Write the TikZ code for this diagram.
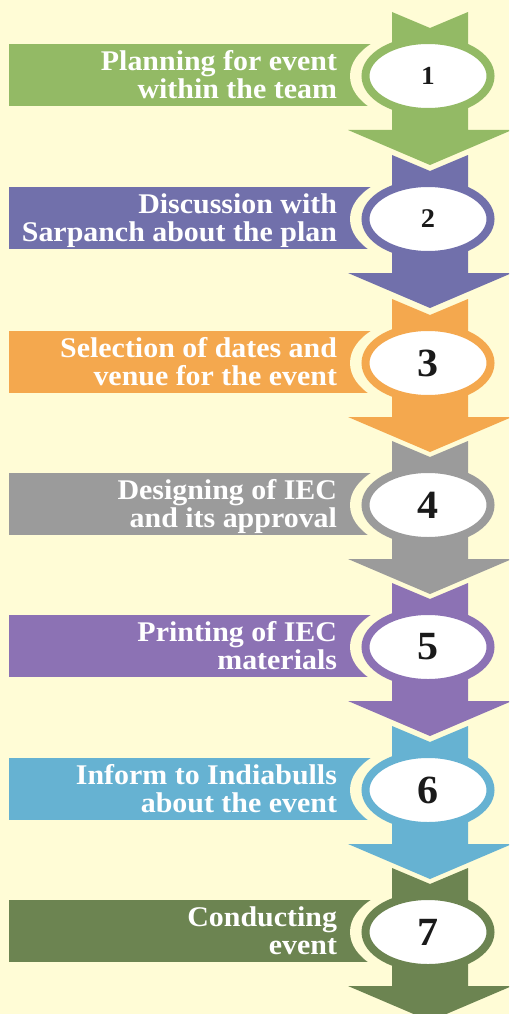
\documentclass[tikz,border=0pt]{standalone}
\usepackage{fontspec}
\setmainfont[FakeStretch=1.05]{Liberation Serif}
\usetikzlibrary{shapes.geometric}
\definecolor{bg}{HTML}{FFFCD6}
\definecolor{cA}{HTML}{93BA65}
\definecolor{cB}{HTML}{7170AB}
\definecolor{cC}{HTML}{F4A84E}
\definecolor{cD}{HTML}{9B9B9B}
\definecolor{cE}{HTML}{8C72B4}
\definecolor{cF}{HTML}{66B2D2}
\definecolor{cG}{HTML}{6C8451}
\definecolor{numcol}{HTML}{1A1A1A}
\tikzset{
  bannertext/.style={anchor=north east, inner sep=0pt, outer sep=0pt, align=right, text=white,
    font=\fontsize{28.5}{28}\selectfont\bfseries},
  numoval/.style={ellipse, fill=white, draw=#1, line width=8pt, minimum width=125pt,
    minimum height=72pt, inner sep=0pt, text=numcol},
}
% #1 id, #2 centre y (px from top), #3 colour, #4 text, #5 number, #6 number size
\newcommand\flowstep[6]{%
  \fill[#3] (9,{31-#2}) rectangle (420,{-31-#2});
  \fill[bg] (428,{-1-#2}) ellipse [x radius=78, y radius=47];
  \fill[#3] (392,{63-#2}) -- (430,{47-#2}) -- (468,{63-#2}) -- (468,{-55-#2})
     -- (512,{-55-#2}) -- (430,{-90-#2}) -- (348,{-55-#2}) -- (392,{-55-#2}) -- cycle;
  \node[numoval=#3, font=\fontsize{#6}{#6}\selectfont\bfseries] (num#1) at (428,{-1-#2}) {#5};
  \node[bannertext] (txt#1) at (337,{24.2-#2}) {#4};
}
\begin{document}
\begin{tikzpicture}[x=1pt,y=1pt]
\useasboundingbox (0,0) rectangle (509,-1014);
\clip (0,0) rectangle (509,-1014);
\fill[bg] (0,0) rectangle (509,-1014);
\flowstep{1}{75}{cA}{Planning for event\\within the team}{1}{26}
\flowstep{2}{218}{cB}{Discussion with\\Sarpanch about the plan}{2}{27}
\flowstep{3}{362}{cC}{Selection of dates and\\venue for the event}{3}{40}
\flowstep{4}{504}{cD}{Designing of IEC\\and its approval}{4}{40}
\flowstep{5}{646}{cE}{Printing of IEC\\materials}{5}{40}
\flowstep{6}{789}{cF}{Inform to Indiabulls\\about the event}{6}{40}
\flowstep{7}{931}{cG}{Conducting\\event}{7}{40}
\end{tikzpicture}
\end{document}
